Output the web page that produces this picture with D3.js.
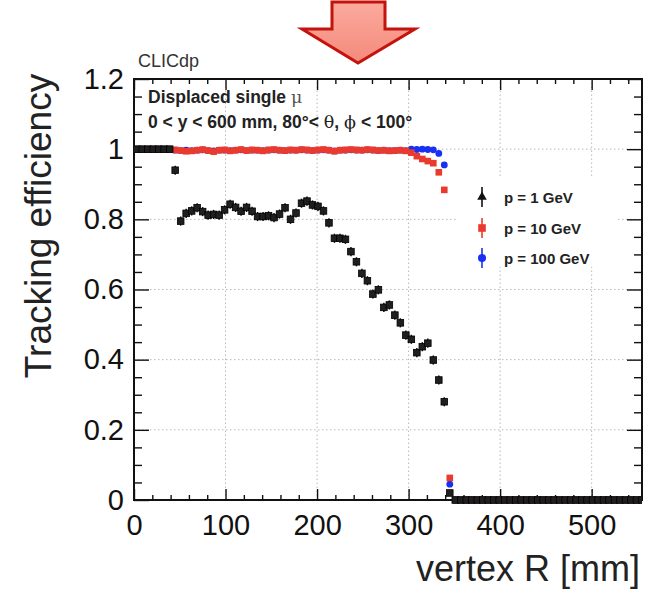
<!DOCTYPE html>
<html>
<head>
<meta charset="utf-8">
<script src="https://cdn.jsdelivr.net/npm/d3@7"></script>
<style>
  body { margin: 0; background: #fff; }
  svg { font-family: "Liberation Sans", Arial, Helvetica, sans-serif; }
</style>
</head>
<body>
<svg width="646" height="598"></svg>
<script>
// tracking efficiency vs displaced vertex radius, 6 mm bins

const binCenters = d3.range(93).map(k => 3 + 6 * k);

const effP1 = [
    1, 1, 1, 1, 1, 1, 1, 0.94, 0.795, 0.817,
    0.824, 0.833, 0.822, 0.812, 0.814, 0.812, 0.827, 0.843, 0.834, 0.823,
    0.834, 0.823, 0.808, 0.808, 0.81, 0.805, 0.815, 0.833, 0.8, 0.818,
    0.846, 0.852, 0.841, 0.837, 0.824, 0.79, 0.746, 0.746, 0.743, 0.708,
    0.679, 0.646, 0.625, 0.587, 0.599, 0.549, 0.556, 0.527, 0.505, 0.47,
    0.458, 0.42, 0.437, 0.447, 0.399, 0.342, 0.28, 0.02, 0, 0,
    0, 0, 0, 0, 0, 0, 0, 0, 0, 0,
    0, 0, 0, 0, 0, 0, 0, 0, 0, 0,
    0, 0, 0, 0, 0, 0, 0, 0, 0, 0,
    0, 0, 0
];

const effP10 = [
    1, 1, 1, 1, 1, 1, 1, 0.998, 0.996, 0.994,
    0.995, 0.997, 0.999, 0.996, 0.993, 0.997, 0.998, 0.995, 0.997, 0.999,
    0.996, 0.998, 0.997, 0.995, 0.998, 0.999, 0.997, 0.996, 0.998, 0.997,
    0.999, 0.998, 0.996, 0.998, 0.999, 0.997, 0.994, 0.997, 0.998, 0.999,
    0.998, 0.997, 0.999, 0.998, 0.996, 0.997, 0.995, 0.996, 0.997, 0.995,
    0.99, 0.98, 0.972, 0.966, 0.96, 0.934, 0.884, 0.063, 0, 0,
    0, 0, 0, 0, 0, 0, 0, 0, 0, 0,
    0, 0, 0, 0, 0, 0, 0, 0, 0, 0,
    0, 0, 0, 0, 0, 0, 0, 0, 0, 0,
    0, 0, 0
];

const effP100 = [
    1, 1, 1, 1, 1, 1, 1, 0.997, 0.996, 0.997,
    0.996, 0.997, 0.998, 0.996, 0.995, 0.997, 0.997, 0.996, 0.997, 0.998,
    0.996, 0.997, 0.997, 0.996, 0.997, 0.998, 0.997, 0.996, 0.997, 0.997,
    0.998, 0.997, 0.996, 0.997, 0.998, 0.997, 0.995, 0.997, 0.997, 0.998,
    0.997, 0.997, 0.998, 0.997, 0.996, 0.997, 0.996, 0.996, 0.997, 0.996,
    1, 0.999, 1, 0.999, 0.998, 0.988, 0.955, 0.045, 0, 0,
    0, 0, 0, 0, 0, 0, 0, 0, 0, 0,
    0, 0, 0, 0, 0, 0, 0, 0, 0, 0,
    0, 0, 0, 0, 0, 0, 0, 0, 0, 0,
    0, 0, 0
];

const xMajor = [0, 100, 200, 300, 400, 500];
const yMajor = [0, 0.2, 0.4, 0.6, 0.8, 1, 1.2];
const xGrid = [100, 200, 300, 400, 500];
const yGrid = [0.2, 0.4, 0.6, 0.8, 1];

const legendLabels = ['p = 1 GeV', 'p = 10 GeV', 'p = 100 GeV'];

const svg = d3.select('svg');

const x = d3.scaleLinear().domain([0, 555]).range([134, 642]);
const y = d3.scaleLinear().domain([0, 1.2]).range([500, 79]);

const xMinor = d3.range(0, 556, 20).filter(v => v % 100 !== 0);
const yMinor = d3.range(0, 1.2001, 0.05).filter(v => Math.abs(v * 5 - Math.round(v * 5)) > 1e-6);

// arrow on top
const defs = svg.append('defs');
const grad = defs.append('linearGradient')
    .attr('id', 'arrowFill')
    .attr('x1', 0).attr('y1', 0).attr('x2', 0).attr('y2', 1);
grad.append('stop').attr('offset', '0%').attr('stop-color', '#fbaa9e');
grad.append('stop').attr('offset', '100%').attr('stop-color', '#f48a7b');

defs.append('clipPath').attr('id', 'plotClip')
    .append('rect')
    .attr('x', 134).attr('y', 0)
    .attr('width', 508).attr('height', 520);

svg.append('path')
    .attr('d', 'M332,2 L385,2 L385,29 L415,29 L358,63 L302,29 L332,29 Z')
    .attr('fill', 'url(#arrowFill)')
    .attr('stroke', '#c4120c')
    .attr('stroke-width', 3)
    .attr('stroke-linejoin', 'miter');

// grid
const grid = svg.append('g')
    .attr('stroke', '#b8b8b8')
    .attr('stroke-width', 1)
    .attr('stroke-dasharray', '1.5,2.5');

grid.selectAll('line.vx')
    .data(xGrid)
    .join('line')
    .attr('class', 'vx')
    .attr('x1', d => x(d)).attr('x2', d => x(d))
    .attr('y1', y(0)).attr('y2', y(1.2));

grid.selectAll('line.hy')
    .data(yGrid)
    .join('line')
    .attr('class', 'hy')
    .attr('x1', x(0)).attr('x2', 642)
    .attr('y1', d => y(d)).attr('y2', d => y(d));

// legend box hides the grid behind it
svg.append('rect')
    .attr('x', 458).attr('y', 178)
    .attr('width', 158).attr('height', 89)
    .attr('fill', '#fff');

// axes (ticks inward, ROOT style)
function styleAxis(g) {
    g.select('.domain').remove();
    g.selectAll('.tick line').attr('stroke', '#111').attr('stroke-width', 1.4);
    g.selectAll('.tick text')
        .attr('fill', '#111')
        .style('font-size', '29px')
        .style('font-family', '"Liberation Sans", Arial, sans-serif');
}

svg.append('g')
    .attr('transform', `translate(0,${y(0)})`)
    .call(d3.axisBottom(x).tickValues(xMajor).tickSize(-11).tickPadding(14).tickFormat(d3.format('d')))
    .call(styleAxis);

svg.append('g')
    .attr('transform', `translate(0,${y(0)})`)
    .call(d3.axisBottom(x).tickValues(xMinor).tickSize(-5).tickFormat(''))
    .call(styleAxis);

svg.append('g')
    .attr('transform', `translate(0,${y(1.2)})`)
    .call(d3.axisTop(x).tickValues(xMajor).tickSize(-11).tickFormat(''))
    .call(styleAxis);

svg.append('g')
    .attr('transform', `translate(0,${y(1.2)})`)
    .call(d3.axisTop(x).tickValues(xMinor).tickSize(-5).tickFormat(''))
    .call(styleAxis);

svg.append('g')
    .attr('transform', `translate(${x(0)},0)`)
    .call(d3.axisLeft(y).tickValues(yMajor).tickSize(-15).tickPadding(10).tickFormat(d3.format('~g')))
    .call(styleAxis);

svg.append('g')
    .attr('transform', `translate(${x(0)},0)`)
    .call(d3.axisLeft(y).tickValues(yMinor).tickSize(-8).tickFormat(''))
    .call(styleAxis);

svg.append('g')
    .attr('transform', 'translate(642,0)')
    .call(d3.axisRight(y).tickValues(yMajor).tickSize(-15).tickFormat(''))
    .call(styleAxis);

svg.append('g')
    .attr('transform', 'translate(642,0)')
    .call(d3.axisRight(y).tickValues(yMinor).tickSize(-8).tickFormat(''))
    .call(styleAxis);

// frame
svg.append('rect')
    .attr('x', 134).attr('y', y(1.2))
    .attr('width', 642 - 134).attr('height', y(0) - y(1.2))
    .attr('fill', 'none')
    .attr('stroke', '#111')
    .attr('stroke-width', 2);

// data
const plot = svg.append('g').attr('clip-path', 'url(#plotClip)');

const blue = binCenters.map((c, i) => ({ c, v: effP100[i] }));
const red = binCenters.map((c, i) => ({ c, v: effP10[i] }));
const black = binCenters.map((c, i) => ({ c, v: effP1[i] }));

plot.append('g')
    .selectAll('circle')
    .data(blue)
    .join('circle')
    .attr('cx', d => x(d.c))
    .attr('cy', d => y(d.v))
    .attr('r', 3.4)
    .attr('fill', '#1730f2');

plot.append('g')
    .selectAll('rect')
    .data(red)
    .join('rect')
    .attr('x', d => x(d.c) - 3.3)
    .attr('y', d => y(d.v) - 3.3)
    .attr('width', 6.6)
    .attr('height', 6.6)
    .attr('fill', '#ea3a2e');

const blackG = plot.append('g');
blackG.selectAll('line')
    .data(black.filter(d => d.v > 0.05 && d.v < 0.99))
    .join('line')
    .attr('x1', d => x(d.c)).attr('x2', d => x(d.c))
    .attr('y1', d => y(d.v + 0.013)).attr('y2', d => y(d.v - 0.013))
    .attr('stroke', '#111')
    .attr('stroke-width', 1.5);

blackG.selectAll('rect')
    .data(black)
    .join('rect')
    .attr('x', d => x(d.c) - 3.3)
    .attr('y', d => y(d.v) - 3.3)
    .attr('width', 6.6)
    .attr('height', 6.6)
    .attr('fill', '#1f1f1f')
    .attr('stroke', '#000')
    .attr('stroke-width', 0.8);

// legend
const legendY = [197, 228, 258];
const leg = svg.append('g');

legendY.forEach((ly, i) => {
    leg.append('line')
        .attr('x1', 482).attr('x2', 482)
        .attr('y1', ly - 10).attr('y2', ly + 10)
        .attr('stroke', ['#111', '#ea3a2e', '#1730f2'][i])
        .attr('stroke-width', 1.6);
});
leg.append('path')
    .attr('d', d3.symbol(d3.symbolTriangle, 40)())
    .attr('transform', `translate(482,${legendY[0]})`)
    .attr('fill', '#111');
leg.append('rect')
    .attr('x', 482 - 3.8).attr('y', legendY[1] - 3.8)
    .attr('width', 7.6).attr('height', 7.6)
    .attr('fill', '#ea3a2e');
leg.append('circle')
    .attr('cx', 482).attr('cy', legendY[2])
    .attr('r', 4)
    .attr('fill', '#1730f2');

leg.selectAll('text')
    .data(legendLabels)
    .join('text')
    .attr('x', 504)
    .attr('y', (_d, i) => legendY[i] + 6)
    .attr('font-size', 15)
    .attr('font-weight', 'bold')
    .attr('fill', '#222')
    .text(d => d);

// annotations
svg.append('text')
    .attr('x', 138).attr('y', 67)
    .attr('font-size', 18)
    .attr('fill', '#333')
    .text('CLICdp');

const t1 = svg.append('text')
    .attr('x', 148).attr('y', 103)
    .attr('font-size', 17.5)
    .attr('font-weight', 'bold')
    .attr('fill', '#222');
t1.append('tspan').text('Displaced single ');
t1.append('tspan').attr('font-weight', 'normal').attr('font-family', '"DejaVu Serif", serif').attr('fill', '#555').text('μ');

const t2 = svg.append('text')
    .attr('x', 148).attr('y', 128)
    .attr('font-size', 17.5)
    .attr('font-weight', 'bold')
    .attr('fill', '#222');
t2.append('tspan').text('0 < y < 600 mm, 80°< ');
t2.append('tspan').attr('font-weight', 'normal').attr('font-family', '"DejaVu Serif", serif').text('θ');
t2.append('tspan').text(', ');
t2.append('tspan').attr('font-weight', 'normal').attr('font-family', '"DejaVu Serif", serif').text('ϕ');
t2.append('tspan').text(' < 100°');

// axis titles
svg.append('text')
    .attr('transform', 'translate(51,226) rotate(-90)')
    .attr('text-anchor', 'middle')
    .attr('font-size', 37)
    .attr('fill', '#222')
    .text('Tracking efficiency');

svg.append('text')
    .attr('x', 640).attr('y', 581)
    .attr('text-anchor', 'end')
    .attr('font-size', 36)
    .attr('fill', '#222')
    .text('vertex R [mm]');
</script>
</body>
</html>
